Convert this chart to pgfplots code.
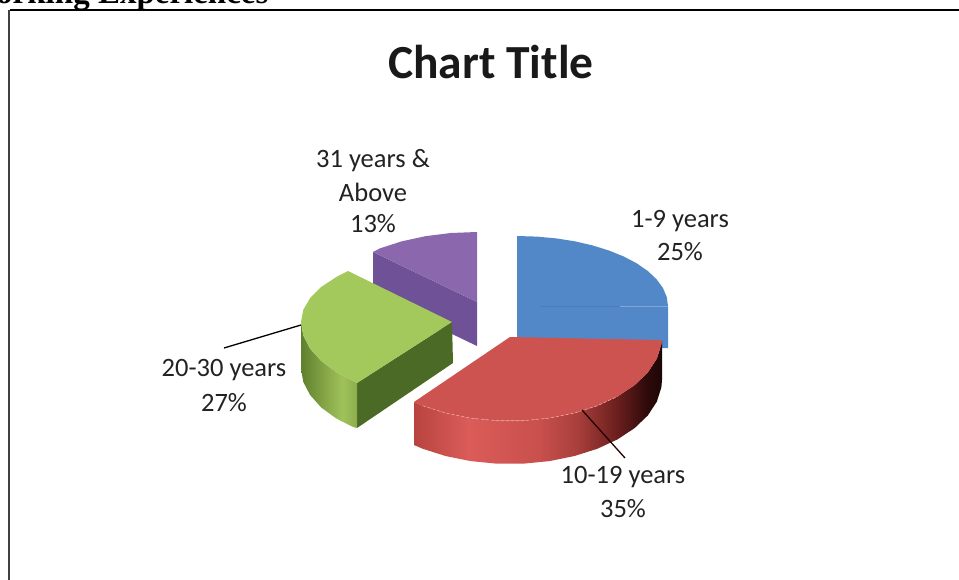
\documentclass[border=0pt]{standalone}
\usepackage{fontspec}
\setmainfont{Carlito}
\newfontfamily\serifhead{Liberation Serif}
\usepackage{pgfplots}
\pgfplotsset{compat=1.18}

\definecolor{blueTop}{HTML}{5288C8}
\definecolor{blueEdge}{HTML}{7FA8DA}
\definecolor{blueLine}{HTML}{4A7DBB}
\definecolor{redTop}{HTML}{CD5350}
\definecolor{redEdge}{HTML}{EFA09E}
\definecolor{greenTop}{HTML}{A3C85C}
\definecolor{greenInner}{HTML}{4A6A26}
\definecolor{purpleTop}{HTML}{8B68AE}
\definecolor{purpleSide}{HTML}{6E5197}
\definecolor{labelText}{HTML}{222222}
\definecolor{redA}{HTML}{B8443F}
\definecolor{redB}{HTML}{DB5C59}
\definecolor{redC}{HTML}{C9504D}
\definecolor{redD}{HTML}{A83F3C}
\definecolor{redE}{HTML}{6A1F1D}
\definecolor{redF}{HTML}{2E0A0A}
\definecolor{redG}{HTML}{1E0606}
\definecolor{greenA}{HTML}{5F7F2E}
\definecolor{greenB}{HTML}{7E9E42}
\definecolor{greenC}{HTML}{A0C25A}
\definecolor{greenD}{HTML}{8DAD4C}

\pgfdeclarehorizontalshading{redside}{100bp}{
  color(0bp)=(redA);
  color(25bp)=(redA);
  color(36bp)=(redB);
  color(50bp)=(redC);
  color(58bp)=(redD);
  color(66bp)=(redE);
  color(72bp)=(redF);
  color(75bp)=(redG);
  color(100bp)=(redG)}
\pgfdeclarehorizontalshading{greenside}{100bp}{
  color(0bp)=(greenA);
  color(25bp)=(greenA);
  color(42bp)=(greenB);
  color(62bp)=(greenC);
  color(75bp)=(greenD);
  color(100bp)=(greenD)}

\tikzset{lbl/.style={font=\fontsize{26.5}{30}\selectfont,text=labelText}}

\begin{document}
\begin{tikzpicture}
  \clip (0,0) rectangle (959pt,580pt);
  \begin{axis}[
    at={(0,0)},anchor=south west,
    scale only axis,
    width=959pt,height=580pt,
    xmin=0,xmax=959,ymin=0,ymax=580,
    y dir=reverse,
    hide axis,
    clip=false
  ]
    % frame of the chart area
    \addplot[black,line width=2.4pt] coordinates {(10,10) (959,10)};
    \addplot[black!75,line width=2pt] coordinates {(9,10) (9,580)};

    % purple slice
    \addplot[fill=purpleSide,draw=none] coordinates {(373,252) (477,302) (477,346) (373,296)} -- cycle;
    \addplot[fill=purpleTop,draw=none] coordinates {(373,252) (379.9,248.4) (401.5,241.4) (425.4,236.2) (450.8,233) (477,232) (477,302)} -- cycle;

    % green slice
    \addplot[fill=greenInner,draw=none] coordinates {(452,322) (453,363) (357,428) (357,383)} -- cycle;
    \addplot[shade,shading=greenside,draw=none] coordinates {(301,322) (301,369) (303.3,382) (310.1,395) (321.2,407.5) (336.3,418.5) (353,427) (357,428)
      (357,383) (353,380.9) (336.3,372.1) (321.2,361) (310.1,348.7) (303.3,335.5)} -- cycle;
    \addplot[fill=greenTop,draw=none] coordinates {(348,271) (452,322) (357,383) (353,380.9) (336.3,372.1) (321.2,361) (310.1,348.7) (303.3,335.5)
      (301,322) (303.3,309.8) (310.1,298.1) (321.2,287) (336.3,277)} -- cycle;

    % blue slice
    \addplot[fill=blueTop,draw=none] coordinates {(517,236) (536.7,236.6) (556.1,238.4) (574.8,241.3) (592.5,245.4) (608.9,250.5) (623.8,256.5)
      (636.8,263.4) (647.8,271) (656.5,279.2) (662.9,287.9) (666.7,296.9) (668,306) (668,348) (517,348)} -- cycle;
    \addplot[blueLine,line width=0.6pt] coordinates {(540,306) (620,306)};
    \addplot[blueEdge,line width=0.6pt] coordinates {(620,306) (668,306)};

    % red slice
    \addplot[shade,shading=redside,draw=none] coordinates {(414,402) (414,445) (422.8,448.8) (445.8,456.1) (470.7,461.1) (496.8,463.7) (523.2,463.7)
      (549.3,461.1) (574.2,456.1) (597.2,448.8) (617.5,439.4) (634.5,428.2) (647.8,415.5) (656.8,401.7) (661.4,387.3) (662,380)
      (662,340) (661.4,344.3) (656.8,358.7) (647.8,372.5) (634.5,385.2) (617.5,396.4) (597.2,405.8) (574.2,413.1) (549.3,418.1)
      (523.2,420.7) (496.8,420.7) (470.7,418.1) (445.8,413.1) (422.8,405.8)} -- cycle;
    \addplot[fill=redTop,draw=none] coordinates {(510,337) (662,340) (661.4,344.3) (656.8,358.7) (647.8,372.5) (634.5,385.2) (617.5,396.4) (597.2,405.8)
      (574.2,413.1) (549.3,418.1) (523.2,420.7) (496.8,420.7) (470.7,418.1) (445.8,413.1) (422.8,405.8) (414,402)} -- cycle;
    \addplot[redEdge,line width=0.6pt,densely dashed] coordinates {(422.8,405.8) (445.8,413.1) (470.7,418.1) (496.8,420.7) (523.2,420.7) (549.3,418.1) (574.2,413.1) (597.2,405.8) (617.5,396.4)};

    % leader lines
    \addplot[black,line width=1.3pt] coordinates {(224,348) (301,325)};
    \addplot[black!85!red,line width=1.3pt] coordinates {(582,410) (625,458)};

    % texts
    \node[font=\fontsize{47.5}{54}\selectfont\bfseries,text=black!90] at (axis cs:491,62) {Chart Title};
    \node[anchor=base east,font=\fontsize{33}{38}\selectfont\bfseries\serifhead,text=black] at (axis cs:272,4) {orking Experiences};
    \node[lbl] at (axis cs:373,161) {31 years \&};
    \node[lbl] at (axis cs:373,192) {Above};
    \node[lbl] at (axis cs:373,224) {13\%};
    \node[lbl] at (axis cs:680,221) {1-9 years};
    \node[lbl] at (axis cs:680,252) {25\%};
    \node[lbl] at (axis cs:224,370) {20-30 years};
    \node[lbl] at (axis cs:224,403) {27\%};
    \node[lbl] at (axis cs:623,477) {10-19 years};
    \node[lbl] at (axis cs:623,509) {35\%};
  \end{axis}
\end{tikzpicture}
\end{document}
